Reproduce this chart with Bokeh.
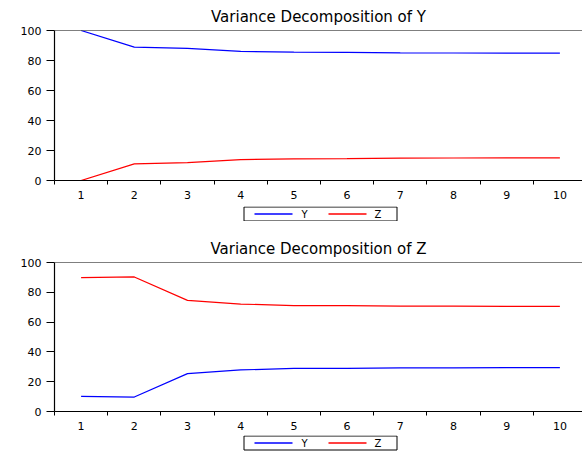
from bokeh.plotting import figure
from bokeh.models import FixedTicker, Span, Range1d
from bokeh.layouts import column
from bokeh.core.properties import value
from bokeh.embed import file_html
from bokeh.resources import INLINE

periods = [1, 2, 3, 4, 5, 6, 7, 8, 9, 10]

# Variance decomposition of Y
y_share_of_y = [100.0, 88.9, 88.1, 86.1, 85.6, 85.4, 85.1, 85.0, 84.9, 84.9]
z_share_of_y = [0.0, 11.1, 11.9, 13.9, 14.4, 14.6, 14.9, 15.0, 15.1, 15.1]

# Variance decomposition of Z
y_share_of_z = [10.2, 9.7, 25.4, 27.9, 28.9, 29.0, 29.3, 29.3, 29.4, 29.5]
z_share_of_z = [89.8, 90.3, 74.6, 72.1, 71.1, 71.0, 70.7, 70.7, 70.6, 70.5]

series_names = ["Y", "Z"]
series_colors = ["#0000ff", "#ff0000"]

y_ticks = [0, 20, 40, 60, 80, 100]
boundaries = [0.5, 1.5, 2.5, 3.5, 4.5, 5.5, 6.5, 7.5, 8.5, 9.5, 10.5]

FONT = "DejaVu Sans"
FRAME_W = 528
LEFT = 54


def make_panel(title, ys, zs, frame_h, border_top, border_bottom):
    p = figure(frame_width=FRAME_W, frame_height=frame_h, output_backend="svg", toolbar_location=None,
               x_range=Range1d(0.5, 10.425), y_range=Range1d(0, 100),
               min_border_left=LEFT, min_border_right=0,
               min_border_top=border_top, min_border_bottom=border_bottom,
               title=title)
    p.title.align = "center"
    p.title.text_font = FONT
    p.title.text_font_size = "15px"
    p.title.text_font_style = "normal"
    p.title.text_color = "black"
    p.title.standoff = 10
    p.outline_line_color = None
    p.xgrid.visible = False
    p.ygrid.visible = False

    for vals, c in zip([ys, zs], series_colors):
        p.line(periods, vals, line_color=c, line_width=1.2)

    p.add_layout(Span(location=100, dimension="width", line_color="black", line_width=1.2))

    xa = p.xaxis[0]
    xa.ticker = FixedTicker(ticks=periods, minor_ticks=boundaries)
    xa.major_tick_out = 0
    xa.major_tick_in = 0
    xa.minor_tick_out = 4
    xa.minor_tick_in = 0
    xa.minor_tick_line_color = "black"
    xa.axis_line_color = "black"
    xa.axis_line_width = 1.2
    xa.major_label_standoff = 6
    xa.major_label_text_font = FONT
    xa.major_label_text_font_size = "11px"
    xa.major_label_text_color = "black"

    ya = p.yaxis[0]
    ya.ticker = FixedTicker(ticks=y_ticks)
    ya.minor_tick_line_color = None
    ya.major_tick_out = 8
    ya.major_tick_in = 0
    ya.major_tick_line_color = "black"
    ya.axis_line_color = "black"
    ya.axis_line_width = 1.2
    ya.major_label_standoff = 5
    ya.major_label_text_font = FONT
    ya.major_label_text_font_size = "11px"
    ya.major_label_text_color = "black"
    return p


def make_legend(height):
    # a legend strip laid out in screen pixels relative to the plot frame
    q = figure(frame_width=FRAME_W, frame_height=height, output_backend="svg", toolbar_location=None,
               x_range=Range1d(0, FRAME_W), y_range=Range1d(0, height),
               x_axis_location=None, y_axis_location=None,
               min_border_left=LEFT, min_border_right=0, min_border_top=0, min_border_bottom=0,
               outline_line_color=None)
    q.xgrid.visible = False
    q.ygrid.visible = False
    mid = height - 7.5
    q.quad(left=[189.5], right=[342.5], bottom=[height - 14.5], top=[height - 0.5],
           fill_color="white", line_color="black", line_width=1)
    q.segment(x0=[200, 274], y0=[mid, mid], x1=[238, 312], y1=[mid, mid],
              line_color=series_colors, line_width=1.3)
    q.text(x=[247, 320], y=[mid, mid], text=series_names,
           text_font=value(FONT), text_font_size="10px", text_color="black",
           text_baseline="middle", text_align="left")
    return q


top = make_panel("Variance Decomposition of Y", y_share_of_y, z_share_of_y, 150, 30, 26)
top_legend = make_legend(15)
bottom = make_panel("Variance Decomposition of Z", y_share_of_z, z_share_of_z, 149, 41, 24)
bottom_legend = make_legend(19)

layout = column(top, top_legend, bottom, bottom_legend, spacing=0)
open("out.html", "w").write(file_html(layout, INLINE))
